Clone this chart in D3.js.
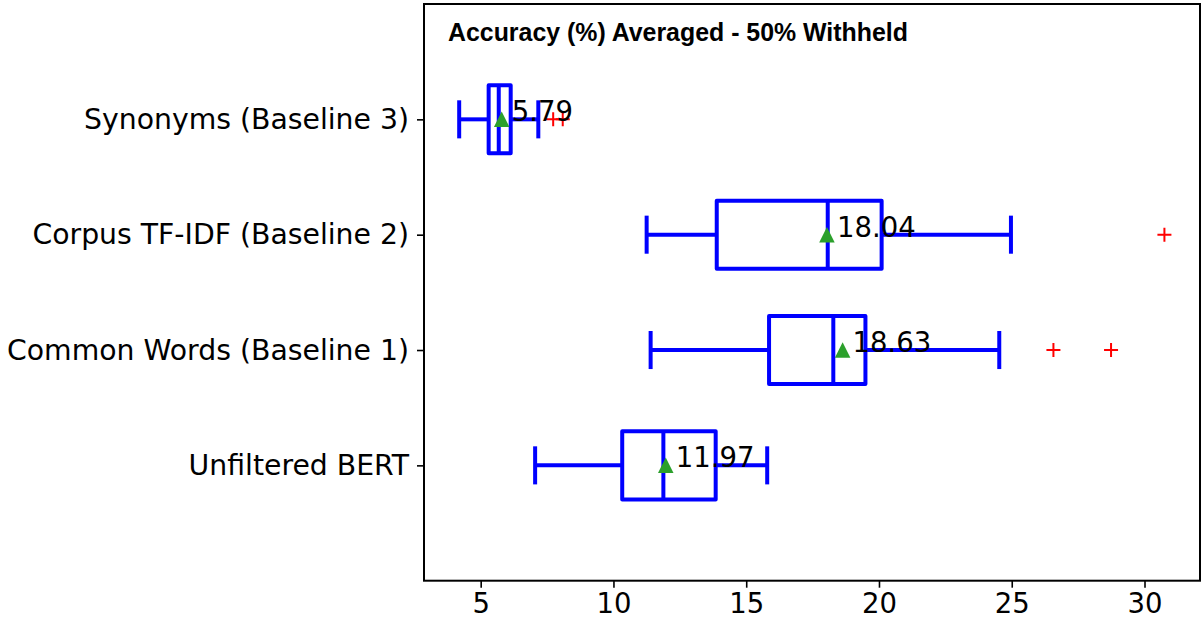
<!DOCTYPE html>
<html>
<head>
<meta charset="utf-8">
<script src="https://cdn.jsdelivr.net/npm/d3@7"></script>
<style>
  html, body { margin: 0; padding: 0; background: #fff; }
  svg { display: block; }
</style>
</head>
<body>
<svg id="chart" width="1204" height="624"></svg>
<script>
// Box-plot summary per method (accuracy %, 50% withheld)
const categories = ["Unfiltered BERT", "Common Words (Baseline 1)", "Corpus TF-IDF (Baseline 2)", "Synonyms (Baseline 3)"];
const whiskerLow  = [7.05, 11.40, 11.25, 4.19];
const q1          = [10.33, 15.86, 13.89, 5.30];
const medians     = [11.88, 18.28, 18.07, 5.68];
const q3          = [13.85, 19.49, 20.10, 6.13];
const whiskerHigh = [15.79, 24.53, 24.97, 7.17];
const means       = [11.97, 18.63, 18.04, 5.79];
const outliers    = [[], [26.57, 28.74], [30.75], [7.73, 8.09]];
const xTicks      = [5, 10, 15, 20, 25, 30];
const title       = "Accuracy (%) Averaged - 50% Withheld";

const plot = { left: 424, right: 1200, top: 4, bottom: 580.7 };
const BLUE = "#0000ff", RED = "#ff0000", GREEN = "#2ca02c";
const LW = 4;

const svg = d3.select("#chart");

const x = d3.scaleLinear().domain([2.865, 32.09]).range([plot.left, plot.right]);
const y = d3.scaleLinear().domain([0, 5]).range([plot.bottom, plot.top]);
const pos = (i) => i + 1;

const boxHalf = 0.295, capHalf = 0.165;

const rows = categories.map((c, i) => ({
  name: c, p: pos(i), lo: whiskerLow[i], q1: q1[i], med: medians[i],
  q3: q3[i], hi: whiskerHigh[i], mean: means[i], fliers: outliers[i]
}));

const g = svg.append("g");

// whiskers
g.selectAll(".whisker-lo").data(rows).join("line")
  .attr("x1", d => x(d.lo)).attr("x2", d => x(d.q1))
  .attr("y1", d => y(d.p)).attr("y2", d => y(d.p))
  .attr("stroke", BLUE).attr("stroke-width", LW);
g.selectAll(".whisker-hi").data(rows).join("line")
  .attr("x1", d => x(d.q3)).attr("x2", d => x(d.hi))
  .attr("y1", d => y(d.p)).attr("y2", d => y(d.p))
  .attr("stroke", BLUE).attr("stroke-width", LW);

// caps
["lo", "hi"].forEach(k => {
  g.selectAll(".cap-" + k).data(rows).join("line")
    .attr("x1", d => x(d[k])).attr("x2", d => x(d[k]))
    .attr("y1", d => y(d.p + capHalf)).attr("y2", d => y(d.p - capHalf))
    .attr("stroke", BLUE).attr("stroke-width", LW);
});

// boxes
g.selectAll(".box").data(rows).join("rect")
  .attr("x", d => x(d.q1)).attr("width", d => x(d.q3) - x(d.q1))
  .attr("y", d => y(d.p + boxHalf)).attr("height", d => y(d.p - boxHalf) - y(d.p + boxHalf))
  .attr("fill", "none").attr("stroke", BLUE).attr("stroke-width", LW)
  .attr("stroke-linejoin", "round");

// medians
g.selectAll(".median").data(rows).join("line")
  .attr("x1", d => x(d.med)).attr("x2", d => x(d.med))
  .attr("y1", d => y(d.p + boxHalf)).attr("y2", d => y(d.p - boxHalf))
  .attr("stroke", BLUE).attr("stroke-width", LW);

// outliers as red plus markers
const fliers = rows.flatMap(d => d.fliers.map(v => ({ v, p: d.p })));
g.selectAll(".flier").data(fliers).join("path")
  .attr("d", d => {
    const cx = x(d.v), cy = y(d.p), h = 7;
    return `M${cx - h},${cy}H${cx + h}M${cx},${cy - h}V${cy + h}`;
  })
  .attr("stroke", RED).attr("stroke-width", 2).attr("fill", "none");

// mean markers
g.selectAll(".mean").data(rows).join("path")
  .attr("d", d => {
    const cx = x(d.mean), cy = y(d.p), h = 7.75;
    return `M${cx},${cy - h}L${cx - h},${cy + h}L${cx + h},${cy + h}Z`;
  })
  .attr("fill", GREEN);

// mean value labels
g.selectAll(".mean-label").data(rows).join("text")
  .attr("x", d => x(d.mean) + 10).attr("y", d => y(d.p) + 2)
  .attr("font-family", "DejaVu Sans").attr("font-size", 27.5)
  .attr("fill", "#000")
  .text(d => d.mean.toFixed(2));

// axes
const xAxis = d3.axisBottom(x).tickValues(xTicks).tickSize(7).tickPadding(6).tickFormat(d3.format("d"));
const gx = svg.append("g").attr("transform", `translate(0,${plot.bottom})`).call(xAxis);
gx.select(".domain").remove();
gx.selectAll(".tick line").attr("stroke", "#000").attr("stroke-width", 1.6);
gx.selectAll(".tick text").attr("font-family", "DejaVu Sans").attr("font-size", 27.5).attr("fill", "#000");

const yAxis = d3.axisLeft(y).tickValues(rows.map(d => d.p)).tickSize(7).tickPadding(8)
  .tickFormat((d) => categories[d - 1]);
const gy = svg.append("g").attr("transform", `translate(${plot.left},0)`).call(yAxis);
gy.select(".domain").remove();
gy.selectAll(".tick line").attr("stroke", "#000").attr("stroke-width", 1.6);
gy.selectAll(".tick text").attr("font-family", "DejaVu Sans").attr("font-size", 28.3).attr("fill", "#000");

// frame
svg.append("rect")
  .attr("x", plot.left).attr("y", plot.top)
  .attr("width", plot.right - plot.left).attr("height", plot.bottom - plot.top)
  .attr("fill", "none").attr("stroke", "#000").attr("stroke-width", 2);

// title inside the axes
svg.append("text")
  .attr("x", 448).attr("y", 41)
  .attr("font-family", "Liberation Sans, Arial, sans-serif").attr("font-weight", "bold")
  .attr("font-size", 24.9).attr("fill", "#000")
  .text(title);
</script>
</body>
</html>
